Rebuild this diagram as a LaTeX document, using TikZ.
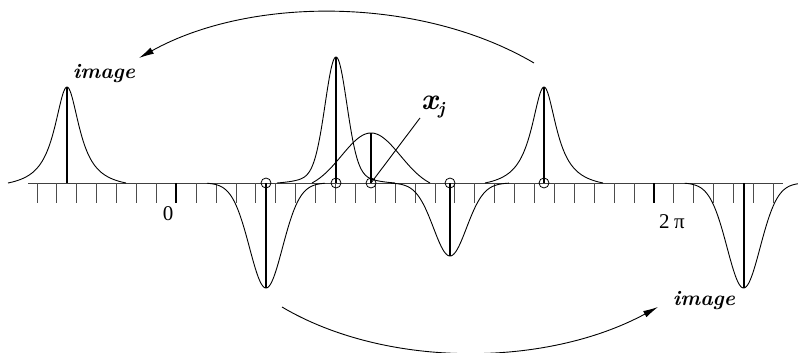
\documentclass[tikz,border=0pt]{standalone}
\usepackage{fontspec}
\usetikzlibrary{arrows.meta}
\newfontfamily\lserif{Liberation Serif}
\begin{document}
\begin{tikzpicture}[x=1pt,y=-1pt,
  curve/.style={line width=0.9pt},
  stem/.style={line width=2pt},
  tickline/.style={line width=0.9pt, black!70},
  bigtick/.style={line width=2.2pt},
  axisline/.style={line width=0.9pt, black!75},
  circ/.style={circle, draw, line width=0.8pt, minimum size=10pt, inner sep=0pt},
  arr/.style={line width=0.9pt, -{Latex[length=15pt,width=7pt]}},
  imglabel/.style={font=\fontsize{21}{24}\selectfont\bfseries\itshape, inner sep=0pt},
  axlabel/.style={font=\lserif\fontsize{21}{24}\selectfont, inner sep=0pt}]
\useasboundingbox (0,0) rectangle (798,353);
\clip (0,0) rectangle (798,353);
% axis and ticks
\draw[axisline] (28,183) -- (783,183);
\foreach \k in {0,...,37} \draw[tickline] ({37+19.9*\k},183) -- ++(0,20);
\draw[bigtick] ({37+19.9*7},183) -- ++(0,20);
\draw[bigtick] ({37+19.9*31},183) -- ++(0,20);
% peak and its image (Lorentzian-like, lowered to meet the axis)
\foreach \pc in {67, 544}
  \draw[curve] plot[domain=-59:59, samples=121, smooth]
    ({\pc+\x}, {183-96*(1/(1+(\x)*(\x)/235)-0.0633)/0.9367});
% tall narrow peak
\draw[curve] plot[domain=-59:59, samples=141, smooth]
    ({336+\x}, {183-126*(0.8*exp(-(\x)*(\x)/230)+0.2/(1+(\x)*(\x)/400)-0.0206)/0.9794});
% wide small bump at x_j
\draw[curve] plot[domain=-59:59, samples=121, smooth]
    ({371+\x}, {183-50*(exp(-(\x)*(\x)/1745)-0.1358)/0.8642});
% negative peaks
\foreach \pc/\ph in {266/105, 450/73, 743.6/105}
  \draw[curve] plot[domain=-59:59, samples=121, smooth]
    ({\pc+\x}, {183+\ph*(0.88*exp(-(\x)*(\x)/570)+0.12/(1+(\x)*(\x)/450)-0.0138)/0.9862});
% stems
\draw[stem] (67,183) -- (67,87);
\draw[stem] (544,183) -- (544,87);
\draw[stem] (336,183) -- (336,57);
\draw[stem] (371,183) -- (371,133);
\draw[stem] (266,183) -- (266,288);
\draw[stem] (450,183) -- (450,256);
\draw[stem] (743.6,183) -- (743.6,288);
% circles
\node[circ] (c1) at (266,183) {};
\node[circ] (c2) at (336,183) {};
\node[circ] (cj) at (371,183) {};
\node[circ] (c4) at (450,183) {};
\node[circ] (c5) at (544,183) {};
% labels
\node[imglabel] (img1) at (104,74) {image};
\node[imglabel] (img2) at (704,301) {image};
\node[axlabel] (zero) at (168,213.5) {0};
\node[axlabel] (twopi) at (672,221.5) {2\hspace{4.5pt}π};
\node[anchor=base west, inner sep=0pt, font=\bfseries\itshape] (xj) at (421,110)
  {\fontsize{30}{32}\selectfont x\raisebox{-4.5pt}{\fontsize{18}{20}\selectfont j}};
\coordinate (lead) at (420,118);
\draw[curve] (lead) -- (cj.center);
% arrows
\coordinate (a1s) at (534,63);
\coordinate (a1e) at (139,58);
\draw[arr] (a1s) .. controls (420,-4) and (250,-4) .. (a1e);
\coordinate (a2s) at (282,307);
\coordinate (a2e) at (658,307);
\draw[arr] (a2s) .. controls (385,368) and (545,368) .. (a2e);
\end{tikzpicture}
\end{document}
